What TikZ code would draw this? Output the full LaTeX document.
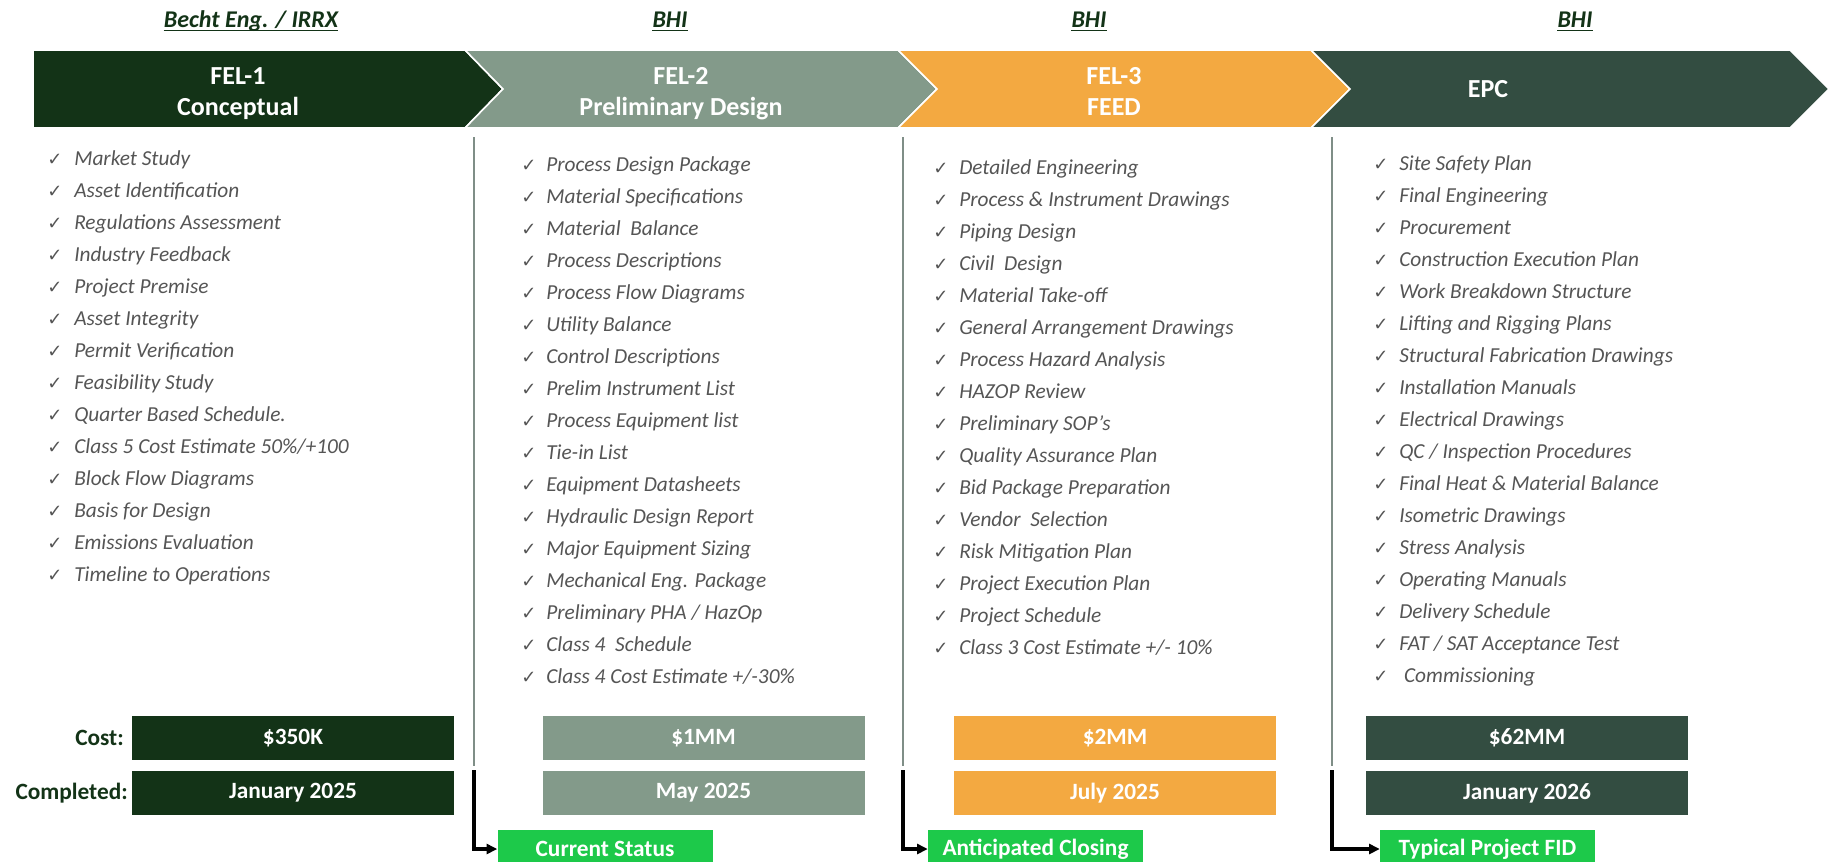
\documentclass[tikz,border=0pt]{standalone}
\usepackage{fontspec}
\setmainfont{Carlito}
\newfontfamily\djv{DejaVu Sans}
\usetikzlibrary{arrows.meta}
\definecolor{cA}{HTML}{133317}
\definecolor{cB}{HTML}{839A8A}
\definecolor{cC}{HTML}{F3A941}
\definecolor{cD}{HTML}{334D41}
\definecolor{cG}{HTML}{1DC94A}
\definecolor{txtgray}{HTML}{555555}
\definecolor{sepgray}{HTML}{7F8E87}
\tikzset{
 item/.style={anchor=base west, inner sep=0pt, text=txtgray, font=\fontsize{16}{19}\selectfont\itshape},
 tick/.style={anchor=base, inner sep=0pt, text=txtgray, font=\djv\fontsize{13.5}{15}\selectfont},
 chev/.style={draw=white, line width=1.2pt, line join=miter},
 title/.style={anchor=base, inner sep=0pt, text=white, font=\fontsize{19.5}{23}\selectfont\bfseries},
 org/.style={anchor=base, inner sep=0pt, text=cA, font=\fontsize{18}{22}\selectfont\bfseries\itshape},
 uline/.style={draw=cA, line width=1.4pt},
 valbox/.style={minimum width=241.5pt, minimum height=33pt, inner sep=0pt, text=white, font=\fontsize{17.5}{21}\selectfont\bfseries},
 rowlbl/.style={anchor=east, inner sep=0pt, text=cA, font=\fontsize{17.5}{21}\selectfont\bfseries},
 statbox/.style={fill=cG, minimum width=161.25pt, minimum height=28.5pt, inner sep=0pt, text=white, font=\fontsize{17.5}{21}\selectfont\bfseries},
 sepline/.style={draw=sepgray, line width=2.2pt},
 statarrow/.style={draw=black, line width=2.5pt, -{Triangle[length=8pt,width=7.5pt]}},
}
\begin{document}
\begin{tikzpicture}[x=0.75pt,y=-0.75pt]
\useasboundingbox (0,0) rectangle (1834,861);
\fill[white] (0,0) rectangle (1834,861);
\clip (0,0) rectangle (1834,861);

% chevrons
\path[chev, fill=cA] (33,50) -- (465,50) -- (503,89) -- (465,128) -- (33,128) -- cycle;
\path[chev, fill=cB] (465,50) -- (898,50) -- (937,89) -- (898,128) -- (465,128) -- (503,89) -- cycle;
\path[chev, fill=cC] (898,50) -- (1311,50) -- (1350,89) -- (1311,128) -- (898,128) -- (937,89) -- cycle;
\path[chev, fill=cD] (1311,50) -- (1790,50) -- (1829,89) -- (1790,128) -- (1311,128) -- (1350,89) -- cycle;

\node[title] (h1a) at (238,84) {FEL-1};
\node[title] (h1b) at (238,115) {Conceptual};
\node[title] (h2a) at (681,84) {FEL-2};
\node[title] (h2b) at (681,115) {Preliminary Design};
\node[title] (h3a) at (1114,84) {FEL-3};
\node[title] (h3b) at (1114,115) {FEED};
\node[title] (h4) at (1488,97) {EPC};

% organisations
\node[org] (o1) at (251,27) {Becht Eng. / IRRX};
\node[org] (o2) at (670,27) {BHI};
\node[org] (o3) at (1089,27) {BHI};
\node[org] (o4) at (1575,27) {BHI};
\foreach \o in {o1,o2,o3,o4}
  \draw[uline] ([yshift=-2.6pt]\o.base west) -- ([yshift=-2.6pt]\o.base east);

% separators
\coordinate (s1t) at (474,137); \coordinate (s1b) at (474,766);
\coordinate (s2t) at (903,137); \coordinate (s2b) at (903,766);
\coordinate (s3t) at (1332,137); \coordinate (s3b) at (1332,766);
\draw[sepline] (s1t) -- (s1b);
\draw[sepline] (s2t) -- (s2b);
\draw[sepline] (s3t) -- (s3b);

% lists
\foreach \t [count=\i from 0] in {Market Study, Asset Identification, Regulations Assessment, Industry Feedback, Project Premise, Asset Integrity, Permit Verification, Feasibility Study, Quarter Based Schedule., Class 5 Cost Estimate 50\%/+100, Block Flow Diagrams, Basis for Design, Emissions Evaluation, Timeline to Operations}{
  \node[tick] (k1-\i) at (55,165+32*\i) {✓};
  \node[item] (t1-\i) at (74,165+32*\i) {\t};
}
\foreach \t [count=\i from 0] in {Process Design Package, Material Specifications, Material~ Balance, Process Descriptions, Process Flow Diagrams, Utility Balance, Control Descriptions, Prelim Instrument List, Process Equipment list, Tie-in List, Equipment Datasheets, Hydraulic Design Report, Major Equipment Sizing, Mechanical Eng. Package, Preliminary PHA / HazOp, Class 4~ Schedule, Class 4 Cost Estimate +/-30\%}{
  \node[tick] (k2-\i) at (529,171+32*\i) {✓};
  \node[item] (t2-\i) at (546,171+32*\i) {\t};
}
\foreach \t [count=\i from 0] in {Detailed Engineering, Process \& Instrument Drawings, Piping Design, Civil~ Design, Material Take-off, General Arrangement Drawings, Process Hazard Analysis, HAZOP Review, Preliminary SOP’s, Quality Assurance Plan, Bid Package Preparation, Vendor~ Selection, Risk Mitigation Plan, Project Execution Plan, Project Schedule, Class 3 Cost Estimate +/- 10\%}{
  \node[tick] (k3-\i) at (941,174+32*\i) {✓};
  \node[item] (t3-\i) at (959,174+32*\i) {\t};
}
\foreach \t [count=\i from 0] in {Site Safety Plan, Final Engineering, Procurement, Construction Execution Plan, Work Breakdown Structure, Lifting and Rigging Plans, Structural Fabrication Drawings, Installation Manuals, Electrical Drawings, QC / Inspection Procedures, Final Heat \& Material Balance, Isometric Drawings, Stress Analysis, Operating Manuals, Delivery Schedule, FAT / SAT Acceptance Test, ~Commissioning}{
  \node[tick] (k4-\i) at (1381,170+32*\i) {✓};
  \node[item] (t4-\i) at (1399,170+32*\i) {\t};
}

% cost / completion rows
\node[rowlbl] (lc) at (124,738) {Cost:};
\node[rowlbl] (ld) at (128,793) {Completed:};
\node[valbox, fill=cA] (c1) at (293,738) {\$350K};
\node[valbox, fill=cB] (c2) at (703.5,738) {\$1MM};
\node[valbox, fill=cC] (c3) at (1115,738) {\$2MM};
\node[valbox, fill=cD] (c4) at (1527,738) {\$62MM};
\node[valbox, fill=cA] (d1) at (293,793) {January 2025};
\node[valbox, fill=cB] (d2) at (703.5,793) {May 2025};
\node[valbox, fill=cC] (d3) at (1115,793) {July 2025};
\node[valbox, fill=cD] (d4) at (1527,793) {January 2026};

% status boxes
\node[statbox] (st1) at (605,849) {Current Status};
\node[statbox] (st2) at (1035.5,849) {Anticipated Closing};
\node[statbox] (st3) at (1487.5,849) {Typical Project FID};

\coordinate (a1) at (474,770);
\coordinate (a2) at (903,770);
\coordinate (a3) at (1332,770);
\draw[statarrow] (a1) |- (st1.west);
\draw[statarrow] (a2) |- (st2.west);
\draw[statarrow] (a3) |- (st3.west);
\end{tikzpicture}
\end{document}
